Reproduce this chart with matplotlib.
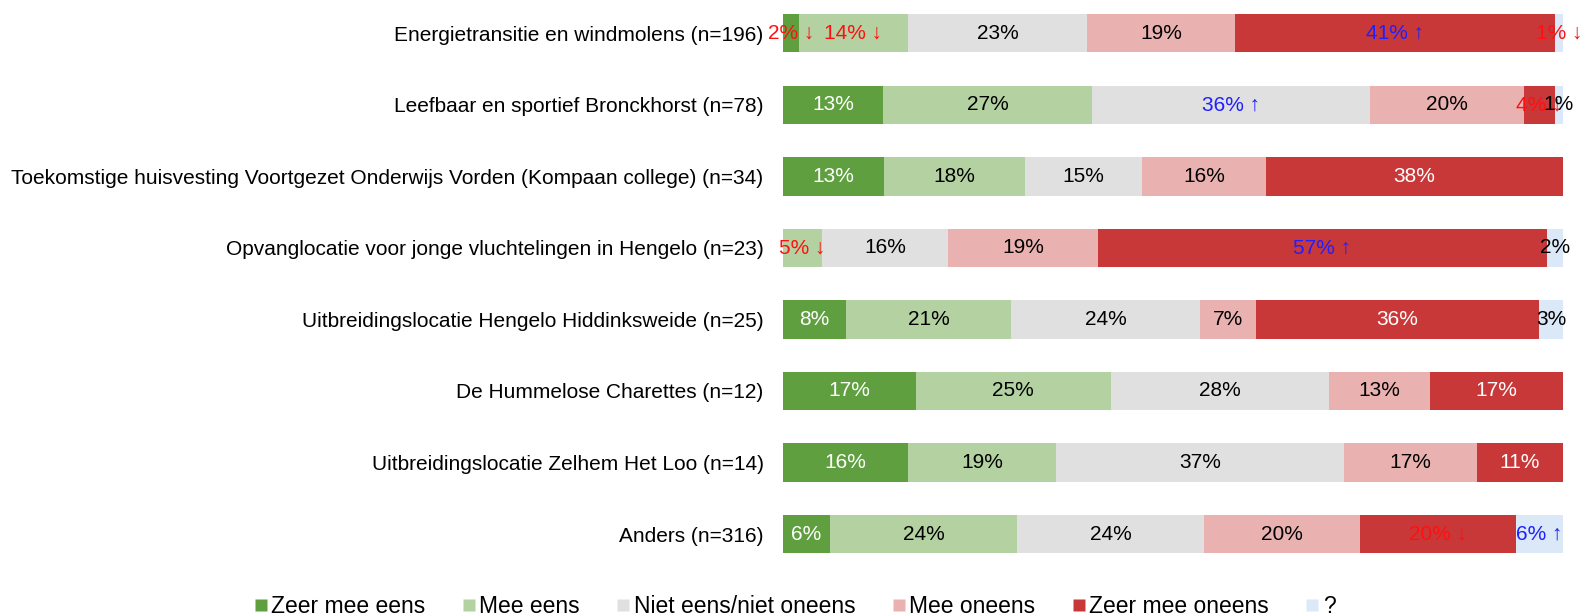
import matplotlib
matplotlib.use('Agg')
import matplotlib.pyplot as plt
from matplotlib.lines import Line2D
import numpy as np

plt.rcParams['font.family'] = ['Liberation Sans', 'DejaVu Sans']

# onderwerpen (van boven naar beneden)
topics = [
    'Energietransitie en windmolens (n=196)',
    'Leefbaar en sportief Bronckhorst (n=78)',
    'Toekomstige huisvesting Voortgezet Onderwijs Vorden (Kompaan college) (n=34)',
    'Opvanglocatie voor jonge vluchtelingen in Hengelo (n=23)',
    'Uitbreidingslocatie Hengelo Hiddinksweide (n=25)',
    'De Hummelose Charettes (n=12)',
    'Uitbreidingslocatie Zelhem Het Loo (n=14)',
    'Anders (n=316)',
]
categories = ['Zeer mee eens', 'Mee eens', 'Niet eens/niet oneens',
              'Mee oneens', 'Zeer mee oneens', '?']

zeer_eens = [2, 13, 13, 0, 8, 17, 16, 6]
eens = [14, 27, 18, 5, 21, 25, 19, 24]
neutraal = [23, 36, 15, 16, 24, 28, 37, 24]
oneens = [19, 20, 16, 19, 7, 13, 17, 20]
zeer_oneens = [41, 4, 38, 57, 36, 17, 11, 20]
onbekend = [1, 1, 0, 2, 3, 0, 0, 6]

# significantie: +1 hoger (blauw, pijl omhoog), -1 lager (rood, pijl omlaag)
sig_zeer_eens = [-1, 0, 0, 0, 0, 0, 0, 0]
sig_eens = [-1, 0, 0, -1, 0, 0, 0, 0]
sig_neutraal = [0, 1, 0, 0, 0, 0, 0, 0]
sig_oneens = [0, 0, 0, 0, 0, 0, 0, 0]
sig_zeer_oneens = [1, -1, 0, 1, 0, 0, 0, -1]
sig_onbekend = [-1, 0, 0, 0, 0, 0, 0, 1]

colors = ['#5f9f3f', '#b3d1a1', '#dfe0df', '#e9b2b1', '#c93838', '#dbe8f8']
text_default = ['white', 'black', 'black', 'black', 'white', 'black']

series = [zeer_eens, eens, neutraal, oneens, zeer_oneens, onbekend]
sigs = [sig_zeer_eens, sig_eens, sig_neutraal, sig_oneens, sig_zeer_oneens, sig_onbekend]

data = np.array(series, dtype=float)
totals = data.sum(axis=0)
shares = data / totals * 100

fig = plt.figure(figsize=(15.8, 6.13), dpi=100)
ax = fig.add_axes([0.4956, 0.0705, 0.4935, 0.9335])

y = np.arange(len(topics))
left = np.zeros(len(topics))
for i, cat in enumerate(categories):
    ax.barh(y, shares[i], left=left, height=0.535, color=colors[i],
            label=cat, edgecolor='none')
    for j in range(len(topics)):
        if series[i][j] == 0:
            continue
        s = sigs[i][j]
        txt = f'{series[i][j]}%'
        col = text_default[i]
        if s > 0:
            txt += ' \u2191'
            col = '#1f1fff'
        elif s < 0:
            txt += ' \u2193'
            col = '#ff1010'
        ax.text(left[j] + shares[i][j] / 2, y[j], txt, ha='center', va='center',
                fontsize=15, color=col)
    left += shares[i]

ax.set_xlim(0, 100)
ax.set_ylim(len(topics) - 0.5, -0.5)
ax.set_yticks(y)
ax.set_yticklabels(topics, fontsize=15)
ax.tick_params(axis='y', length=0, pad=14)
ax.set_xticks([])
for sp in ax.spines.values():
    sp.set_visible(False)

handles = [Line2D([], [], marker='s', linestyle='none', markersize=8.6,
                  markerfacecolor=c, markeredgecolor='none') for c in colors]
fig.legend(handles, categories, loc='lower center', bbox_to_anchor=(0.503, -0.042),
           ncol=6, frameon=False, fontsize=16.5, handletextpad=0.15,
           columnspacing=1.6, handlelength=0.6)

fig.savefig('out.png', dpi=100)
